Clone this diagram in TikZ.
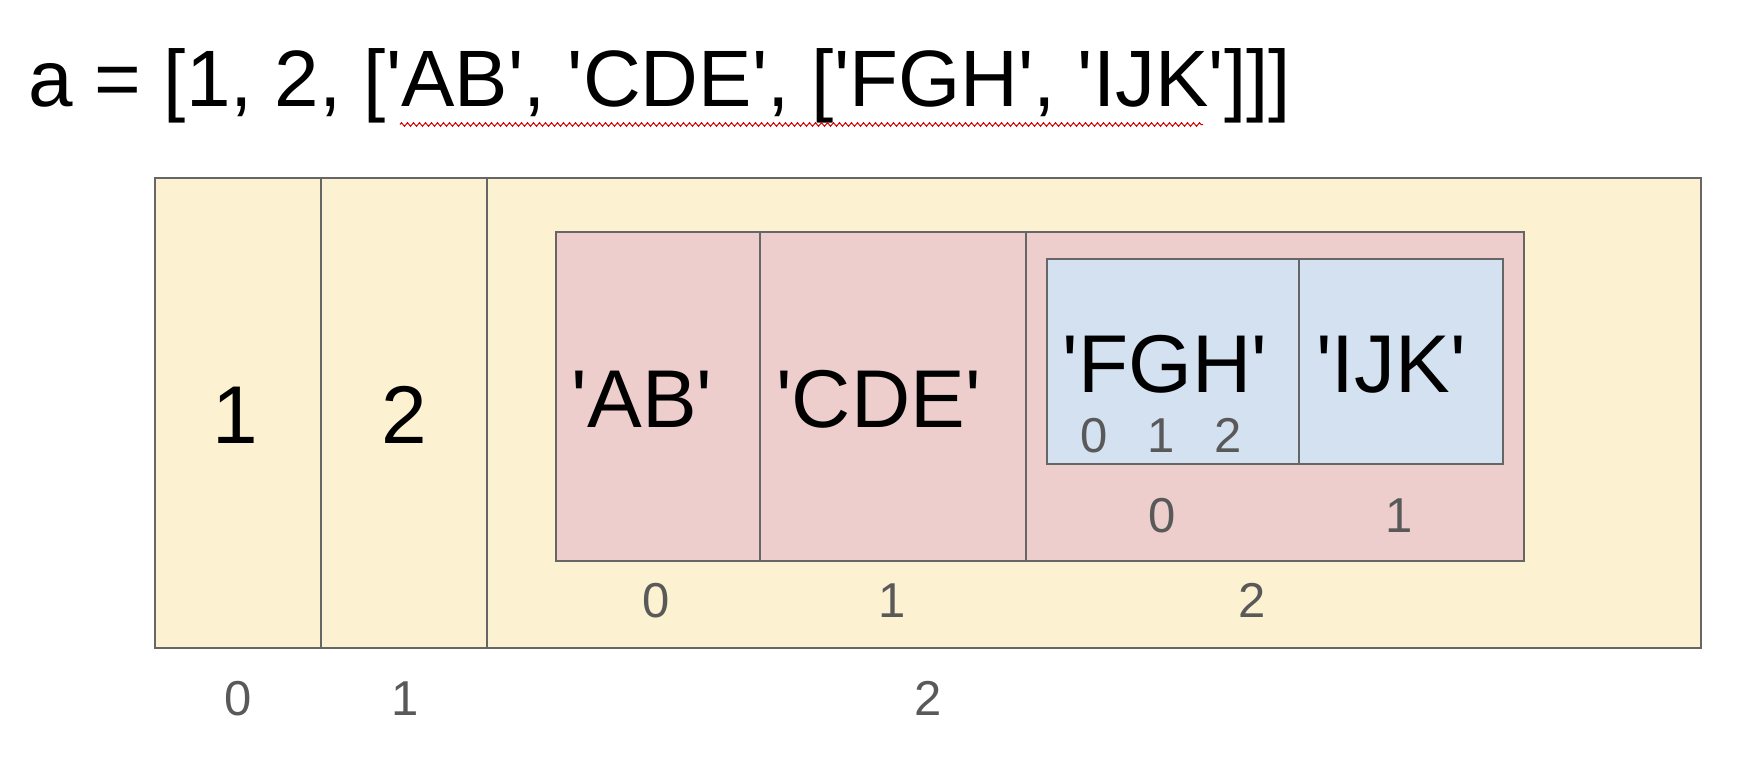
\documentclass[tikz,border=0pt]{standalone}
\usepackage{fontspec}
\newfontfamily\arialfont{Liberation Sans}
\usepackage{tikz}
\usetikzlibrary{decorations.pathmorphing}
\definecolor{listyellow}{HTML}{FCF1D0}
\definecolor{listpink}{HTML}{EECDCD}
\definecolor{listblue}{HTML}{D3E1F1}
\definecolor{cellline}{HTML}{666666}
\definecolor{indexgray}{HTML}{595959}
\tikzstyle{outerlist} = [fill=listyellow, draw=cellline, line width=2pt]
\tikzstyle{middlelist} = [fill=listpink, draw=cellline, line width=2pt]
\tikzstyle{innerlist} = [fill=listblue, draw=cellline, line width=2pt]
\tikzstyle{divider} = [draw=cellline, line width=1.5pt]
\tikzstyle{code} = [anchor=base west, inner sep=0pt, font=\arialfont\fontsize{80}{96}\selectfont]
\tikzstyle{value} = [anchor=base, inner sep=0pt, font=\arialfont\fontsize{82}{98}\selectfont]
\tikzstyle{index} = [anchor=base, inner sep=0pt, text=indexgray, font=\arialfont\fontsize{49}{59}\selectfont]
\tikzstyle{squiggle} = [draw=red!85!black, line width=1pt, decorate, decoration={zigzag, segment length=6pt, amplitude=1.8pt}]

\begin{document}
\begin{tikzpicture}[x=1pt, y=-1pt] % one unit per pixel, y pointing down
\useasboundingbox (0,0) rectangle (1746,764);

% The statement on top
\node(statement) [code] at (28,106) {a = [1, 2, ['AB', 'CDE', ['FGH', 'IJK']]]};
\coordinate(squiggle_start) at (400,124.5);
\coordinate(squiggle_end)   at (1203,124.5);
\draw [squiggle] (squiggle_start) -- (squiggle_end);

% The three nested lists
\draw [outerlist]  (155,178)  rectangle (1701,648);
\draw [divider]    (321,178)  -- (321,648);
\draw [divider]    (487,178)  -- (487,648);
\draw [middlelist] (556,232)  rectangle (1524,561);
\draw [divider]    (760,232)  -- (760,561);
\draw [divider]    (1026,232) -- (1026,561);
\draw [innerlist]  (1047,259) rectangle (1503,464);
\draw [divider]    (1299,259) -- (1299,464);

% Elements
\node(one)   [value] at (235,443)    {1};
\node(two)   [value] at (404,443)    {2};
\node(ab)    [value] at (642,427)    {'AB'};
\node(cde)   [value] at (878.5,427)  {'CDE'};
\node(fgh)   [value] at (1165,392)   {'FGH'};
\node(ijk)   [value] at (1391,392)   {'IJK'};

% Indices
\node(fgh_0)   [index] at (1094.6,452) {0};
\node(fgh_1)   [index] at (1160.7,452) {1};
\node(fgh_2)   [index] at (1228,452)   {2};
\node(inner_0) [index] at (1162,532)   {0};
\node(inner_1) [index] at (1399,532)   {1};
\node(mid_0)   [index] at (656,617.5)  {0};
\node(mid_1)   [index] at (892,617.5)  {1};
\node(mid_2)   [index] at (1252,617.5) {2};
\node(outer_0) [index] at (238.5,715)  {0};
\node(outer_1) [index] at (405.5,715)  {1};
\node(outer_2) [index] at (928,715)    {2};

\end{tikzpicture}
\end{document}
